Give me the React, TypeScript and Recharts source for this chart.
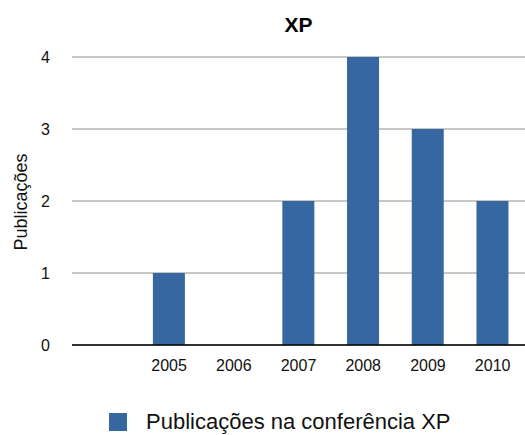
import { Bar, BarChart, CartesianGrid, Legend, XAxis, YAxis } from 'recharts';

const years = ['', '2005', '2006', '2007', '2008', '2009', '2010'];
const publications = [null, 1, 0, 2, 4, 3, 2];
const yTicks = [0, 1, 2, 3, 4];

const seriesName = 'Publicações na conferência XP';
const barColor = '#3767a1';
const font = '"Liberation Sans", Arial, Helvetica, sans-serif';

const data = years.map((year, i) => ({ year, value: publications[i] }));

function LegendContent({ payload }: any) {
  return (
    <div style={{ display: 'flex', alignItems: 'center', fontFamily: font, fontSize: 22, color: '#111' }}>
      {(payload || []).map((item: any) => (
        <div key={item.value} style={{ display: 'flex', alignItems: 'center' }}>
          <span style={{ display: 'inline-block', width: 18, height: 18, background: item.color, marginRight: 19 }} />
          <span>{item.value}</span>
        </div>
      ))}
    </div>
  );
}

export default function App() {
  return (
    <div style={{ position: 'absolute', left: 0, top: 0, width: 525, height: 435, background: '#fff' }}>
      <div
        style={{
          position: 'absolute',
          left: 72,
          width: 453,
          top: 13,
          textAlign: 'center',
          fontFamily: font,
          fontWeight: 'bold',
          fontSize: 21,
          color: '#000',
        }}
      >
        XP
      </div>
      <BarChart
        width={525}
        height={435}
        data={data}
        margin={{ top: 57, right: 0, bottom: 60, left: 0 }}
        barCategoryGap="25%"
      >
        <CartesianGrid vertical={false} stroke="#b4b4b4" strokeWidth={1.5} />
        <XAxis
          dataKey="year"
          height={30}
          tickLine={false}
          tickSize={0}
          tickMargin={15}
          axisLine={{ stroke: '#000', strokeWidth: 1.5 }}
          tick={{ fill: '#111', fontSize: 16, fontFamily: font }}
          interval={0}
        />
        <YAxis
          width={72}
          domain={[0, 4]}
          ticks={yTicks}
          axisLine={false}
          tickLine={false}
          tickSize={0}
          tickMargin={22}
          tick={{ fill: '#111', fontSize: 16, fontFamily: font }}
          label={{
            content: () => (
              <text
                x={21}
                y={202}
                transform="rotate(-90 21 202)"
                textAnchor="middle"
                dominantBaseline="central"
                fontSize={18}
                fontFamily={font}
                fill="#111"
              >
                Publicações
              </text>
            ),
          }}
        />
        <Legend
          layout="horizontal"
          verticalAlign="middle"
          align="center"
          content={<LegendContent />}
          wrapperStyle={{ position: 'absolute', top: 409, left: 109, width: 'auto' }}
        />
        <Bar dataKey="value" name={seriesName} fill={barColor} isAnimationActive={false} />
      </BarChart>
    </div>
  );
}
